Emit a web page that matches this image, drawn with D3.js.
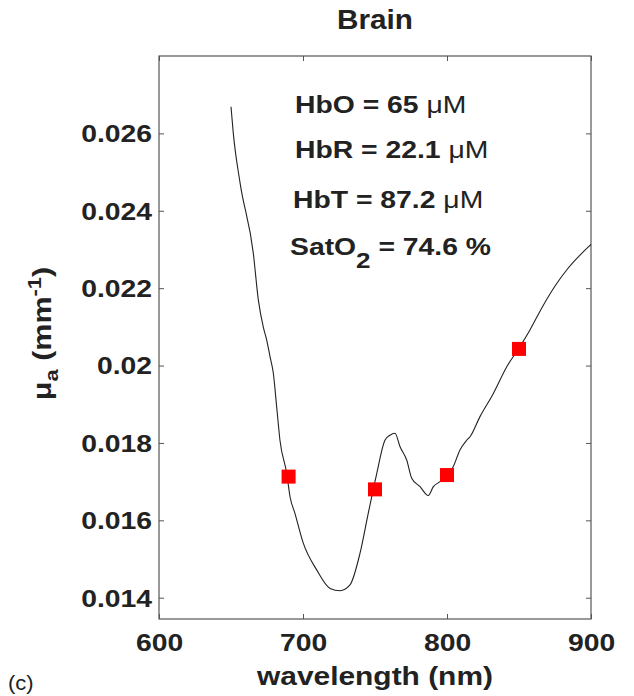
<!DOCTYPE html>
<html>
<head>
<meta charset="utf-8">
<script src="https://cdn.jsdelivr.net/npm/d3@7"></script>
<style>
  body { margin: 0; background: #fff; }
  svg { display: block; }
  text { font-family: "Liberation Sans", Arial, sans-serif; fill: #222; }
</style>
</head>
<body>
<svg width="634" height="696"></svg>
<script>
  // absorption spectrum
  const wavelength = [650, 651.6, 656.3, 665.5, 669, 672.4, 674.8, 677.1, 679.4, 681.7, 684, 688.7,
    691, 694.4, 700.2, 709.5, 718.8, 725.7, 732.6, 739.6, 745.3, 751.2, 756.9, 760.4, 763.9,
    767.4, 772, 775.5, 781.3, 787, 790.5, 795.1, 804.4, 809, 813.7, 816, 822.9, 832.2, 841.5,
    850.7, 857.6, 866.9, 876.2, 883.1, 900];
  const mua = [0.02669, 0.02600, 0.02472, 0.02290, 0.02169, 0.02100, 0.02066, 0.02023, 0.01980,
    0.01894, 0.01807, 0.01721, 0.01661, 0.01618, 0.01541, 0.01472, 0.01424, 0.01418, 0.01433,
    0.01515, 0.01618, 0.01721, 0.01807, 0.01820, 0.01825, 0.01790, 0.01756, 0.01709, 0.01687,
    0.01664, 0.01687, 0.01700, 0.01739, 0.01782, 0.01807, 0.01816, 0.01868, 0.01928, 0.01997,
    0.02049, 0.02092, 0.02156, 0.02212, 0.02247, 0.02313];

  // measured wavelengths
  const markerWl = [690, 750, 800, 850];
  const markerMua = [0.01713, 0.01680, 0.01717, 0.02043];

  const xTicks = [600, 700, 800, 900];
  const yTicks = [0.014, 0.016, 0.018, 0.02, 0.022, 0.024, 0.026];
  const yTickLabels = ['0.014', '0.016', '0.018', '0.02', '0.022', '0.024', '0.026'];

  const infoLines = [
    { name: 'HbO', value: '65', unit: 'μM' },
    { name: 'HbR', value: '22.1', unit: 'μM' },
    { name: 'HbT', value: '87.2', unit: 'μM' },
    { name: 'SatO', sub: '2', value: '74.6', unit: '%' }
  ];

  const svg = d3.select('svg');
  const sx = 1.18;

  // widen text horizontally (the figure's font is wider than Arial)
  const stretch = (sel, k) => sel.each(function () {
    const len = this.getComputedTextLength();
    d3.select(this).attr('textLength', len * k).attr('lengthAdjust', 'spacingAndGlyphs');
  });

  const margin = { top: 56, right: 43, bottom: 77, left: 159 };
  const width = 634, height = 696;
  const innerWidth = width - margin.left - margin.right;
  const innerHeight = height - margin.top - margin.bottom;

  const xScale = d3.scaleLinear().domain([600, 900]).range([0, innerWidth]);
  const yScale = d3.scaleLinear().domain([0.01345, 0.028]).range([innerHeight, 0]);

  const g = svg.append('g')
    .attr('transform', `translate(${margin.left},${margin.top})`);

  // axes, ticks pointing inward on all four sides
  const xAxisG = g.append('g')
    .attr('transform', `translate(0,${innerHeight})`)
    .call(d3.axisBottom(xScale).tickValues(xTicks).tickSizeInner(-5).tickSizeOuter(0));
  const yAxisG = g.append('g')
    .call(d3.axisLeft(yScale).tickValues(yTicks).tickSizeInner(-5).tickSizeOuter(0)
      .tickFormat((d, i) => yTickLabels[i]));
  [xAxisG, yAxisG].forEach(a => a
    .attr('font-family', '"Liberation Sans", Arial, sans-serif')
    .attr('font-size', 24)
    .attr('font-weight', 'bold'));
  xAxisG.selectAll('text').attr('y', 32).attr('dy', null).attr('fill', '#222').call(stretch, sx);
  yAxisG.selectAll('text').attr('x', -7).attr('y', 8.4).attr('dy', null).attr('fill', '#222').call(stretch, sx);

  g.append('g')
    .call(d3.axisTop(xScale).tickValues(xTicks).tickSizeInner(-5).tickSizeOuter(0).tickFormat(''));
  g.append('g')
    .attr('transform', `translate(${innerWidth},0)`)
    .call(d3.axisRight(yScale).tickValues(yTicks).tickSizeInner(-5).tickSizeOuter(0).tickFormat(''));

  g.selectAll('.domain').remove();
  g.selectAll('.tick line').attr('stroke', '#555');

  g.append('rect')
    .attr('width', innerWidth)
    .attr('height', innerHeight)
    .attr('fill', 'none')
    .attr('stroke', '#555')
    .attr('stroke-width', 1.2);

  // spectrum
  const line = d3.line()
    .x((d, i) => xScale(wavelength[i]))
    .y(d => yScale(d))
    .curve(d3.curveMonotoneX);
  g.append('path')
    .datum(mua)
    .attr('d', line)
    .attr('fill', 'none')
    .attr('stroke', '#222')
    .attr('stroke-width', 1.1);

  const markerSize = 14;
  g.selectAll('rect.marker').data(markerWl)
    .enter().append('rect')
      .attr('class', 'marker')
      .attr('x', d => xScale(d) - markerSize / 2)
      .attr('y', (d, i) => yScale(markerMua[i]) - markerSize / 2)
      .attr('width', markerSize)
      .attr('height', markerSize)
      .attr('fill', '#ff0000');

  // concentration annotations
  const infoX = [136, 136, 134, 131];
  const infoY = [57, 102, 152, 199];
  infoLines.forEach((d, i) => {
    const t = g.append('text')
      .attr('x', infoX[i]).attr('y', infoY[i])
      .attr('font-size', 24).attr('font-weight', 'bold');
    t.append('tspan').text(d.name);
    if (d.sub) {
      t.append('tspan').attr('dy', 13).attr('font-size', 22).text(d.sub);
      t.append('tspan').attr('dy', -13).text(` = ${d.value} `);
    } else {
      t.append('tspan').text(` = ${d.value} `);
    }
    t.append('tspan').attr('font-weight', d.unit === '%' ? 'bold' : 'normal').text(d.unit);
    t.call(stretch, sx);
  });

  // title and axis labels
  svg.append('text')
    .attr('x', margin.left + innerWidth / 2).attr('y', 29)
    .attr('text-anchor', 'middle')
    .attr('font-size', 27).attr('font-weight', 'bold')
    .text('Brain')
    .call(stretch, 1.1);

  svg.append('text')
    .attr('x', margin.left + innerWidth / 2).attr('y', 685)
    .attr('text-anchor', 'middle')
    .attr('font-size', 26).attr('font-weight', 'bold')
    .text('wavelength (nm)')
    .call(stretch, 1.15);

  const yl = svg.append('text')
    .attr('transform', `translate(51,${margin.top + innerHeight / 2 - 4}) rotate(-90)`)
    .attr('text-anchor', 'middle')
    .attr('font-size', 25).attr('font-weight', 'bold');
  yl.append('tspan').text('μ');
  yl.append('tspan').attr('dy', 7).attr('font-size', 18).text('a');
  yl.append('tspan').attr('dy', -7).text(' (mm');
  yl.append('tspan').attr('dy', -10).attr('font-size', 18).text('-1');
  yl.append('tspan').attr('dy', 10).text(')');
  yl.call(stretch, 1.22);

  svg.append('text')
    .attr('x', 8).attr('y', 690)
    .attr('font-size', 20)
    .text('(c)')
    .call(stretch, 1.1);
</script>
</body>
</html>
